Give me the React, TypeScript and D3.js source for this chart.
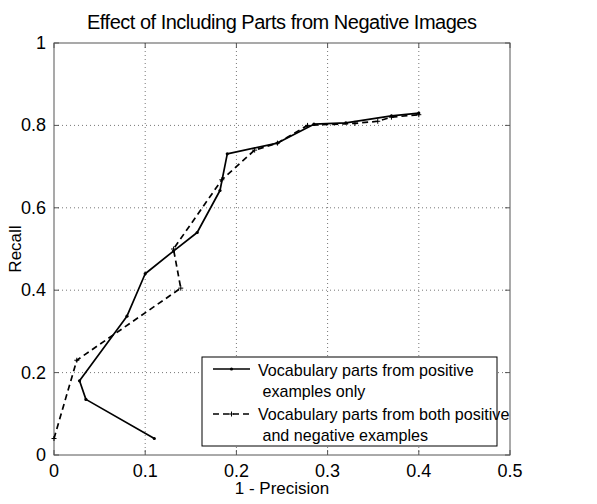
import React from "react";
import * as d3 from "d3";

const posX = [0.11, 0.035, 0.028, 0.08, 0.1, 0.131, 0.157, 0.182, 0.19, 0.245, 0.285, 0.32, 0.37, 0.4];
const posY = [0.04, 0.135, 0.18, 0.337, 0.44, 0.495, 0.54, 0.642, 0.731, 0.757, 0.803, 0.806, 0.823, 0.83];
const bothX = [0.0, 0.025, 0.139, 0.131, 0.184, 0.22, 0.245, 0.278, 0.33, 0.355, 0.37, 0.4];
const bothY = [0.04, 0.23, 0.405, 0.5, 0.668, 0.74, 0.757, 0.8, 0.805, 0.81, 0.82, 0.826];
const xTicks = [0, 0.1, 0.2, 0.3, 0.4, 0.5];
const yTicks = [0, 0.2, 0.4, 0.6, 0.8, 1];
const xTickLabels = ["0", "0.1", "0.2", "0.3", "0.4", "0.5"];
const yTickLabels = ["0", "0.2", "0.4", "0.6", "0.8", "1"];
const legendLabels = [
  ["Vocabulary parts from positive", " examples only"],
  ["Vocabulary parts from both positive", " and negative examples"],
];

const W = 597, H = 504;
const L = 54, R = 510, T = 43, B = 455;
const FONT = "'Liberation Sans', Arial, Helvetica, sans-serif";

export default function App() {
  const x = d3.scaleLinear().domain([0, 0.5]).range([L, R]);
  const y = d3.scaleLinear().domain([0, 1]).range([B, T]);
  const line = d3.line<[number, number]>().x(d => x(d[0])).y(d => y(d[1]));
  const pos: [number, number][] = posX.map((v, i) => [v, posY[i]]);
  const both: [number, number][] = bothX.map((v, i) => [v, bothY[i]]);
  const tick = 5;
  return (
    <svg width={W} height={H} style={{ position: "absolute", left: 0, top: 0, background: "#fff" }} fontFamily={FONT}>
      <rect x={0} y={0} width={W} height={H} fill="#fff" />
      {/* grid */}
      {xTicks.slice(1, -1).map((t, i) => (
        <line key={"gx" + i} x1={x(t)} x2={x(t)} y1={T} y2={B} stroke="#777" strokeWidth={1} strokeDasharray="1,3" />
      ))}
      {yTicks.slice(1, -1).map((t, i) => (
        <line key={"gy" + i} x1={L} x2={R} y1={y(t)} y2={y(t)} stroke="#777" strokeWidth={1} strokeDasharray="1,3" />
      ))}
      {/* box */}
      <rect x={L} y={T} width={R - L} height={B - T} fill="none" stroke="#555" strokeWidth={1} />
      {/* ticks */}
      {xTicks.map((t, i) => (
        <g key={"tx" + i}>
          <line x1={x(t)} x2={x(t)} y1={B} y2={B - tick} stroke="#555" />
          <line x1={x(t)} x2={x(t)} y1={T} y2={T + tick} stroke="#555" />
          <text x={x(t)} y={477} textAnchor="middle" fontSize={18} fill="#000">{xTickLabels[i]}</text>
        </g>
      ))}
      {yTicks.map((t, i) => (
        <g key={"ty" + i}>
          <line x1={L} x2={L + tick} y1={y(t)} y2={y(t)} stroke="#555" />
          <line x1={R} x2={R - tick} y1={y(t)} y2={y(t)} stroke="#555" />
          <text x={46} y={y(t) + 6} textAnchor="end" fontSize={18} fill="#000">{yTickLabels[i]}</text>
        </g>
      ))}
      {/* title and axis labels */}
      <text x={(L + R) / 2} y={29} textAnchor="middle" fontSize={20} fill="#000" textLength={390} lengthAdjust="spacing">Effect of Including Parts from Negative Images</text>
      <text x={(L + R) / 2} y={494} textAnchor="middle" fontSize={17} fill="#000">1 - Precision</text>
      <text transform={`translate(21,249) rotate(-90)`} textAnchor="middle" fontSize={17} fill="#000">Recall</text>
      {/* series */}
      <path d={line(pos) || ""} fill="none" stroke="#000" strokeWidth={1.7} strokeLinejoin="round" />
      <path d={line(both) || ""} fill="none" stroke="#000" strokeWidth={1.7} strokeDasharray="6,4" />
      {pos.map((d, i) => (
        <circle key={"pm" + i} cx={x(d[0])} cy={y(d[1])} r={1.6} fill="#000" />
      ))}
      {both.map((d, i) => (
        <path key={"bm" + i} d={`M${x(d[0]) - 2.5},${y(d[1])}h5M${x(d[0])},${y(d[1]) - 2.5}v5`} stroke="#000" strokeWidth={1} />
      ))}
      {/* legend */}
      <rect x={202} y={357} width={295} height={89} fill="#fff" stroke="#000" strokeWidth={1} />
      <line x1={213} x2={250} y1={369} y2={369} stroke="#000" strokeWidth={1.6} />
      <circle cx={231.5} cy={369} r={1.6} fill="#000" />
      <line x1={213} x2={250} y1={414} y2={414} stroke="#000" strokeWidth={1.6} strokeDasharray="6,4" />
      <path d="M229,414h5M231.5,411.5v5" stroke="#000" strokeWidth={1} />
      {legendLabels.map((lines, i) => (
        <g key={"lg" + i}>
          <text x={258} y={376 + i * 44} fontSize={16.1} fill="#000" style={{ whiteSpace: "pre" }}>{lines[0]}</text>
          <text x={258} y={397 + i * 44} fontSize={16.1} fill="#000" style={{ whiteSpace: "pre" }}>{lines[1]}</text>
        </g>
      ))}
    </svg>
  );
}
